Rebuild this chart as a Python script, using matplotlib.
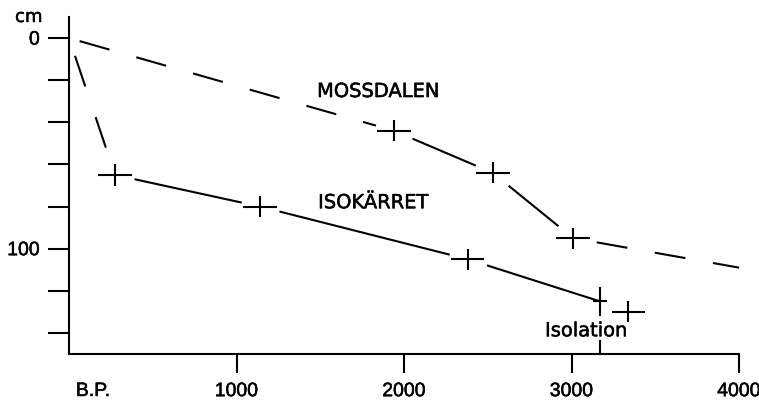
import matplotlib
matplotlib.use("Agg")
import matplotlib.pyplot as plt
import matplotlib.patheffects as pe

# Mossdalen dated levels (years B.P., depth in cm)
moss_bp = [1940, 2530, 3010]
moss_depth = [44, 64, 95]
moss_top = (0, 0)
moss_end = (4000, 109)

# Isokarret dated levels
iso_bp = [275, 1140, 2380, 3170]
iso_depth = [65, 80, 105, 125]
iso_top = (0, 0)
extra_bp = [3340]
extra_depth = [130]

isolation_bp = 3170

xticks = [1000, 2000, 3000, 4000]
yticks = [0, 20, 40, 60, 80, 100, 120, 140]
ylabels = ["0", "", "", "", "", "100", "", ""]

lw = 1.5
thick = [pe.withStroke(linewidth=0.35, foreground="black")]

fig = plt.figure(figsize=(7.59, 4.06), dpi=100)
ax = fig.add_axes([69/759, 51/406, 670/759, 337/406])
ax.set_xlim(0, 4000)
ax.set_ylim(150, -10)

for s in ["top", "right"]:
    ax.spines[s].set_visible(False)
for s in ["left", "bottom"]:
    ax.spines[s].set_linewidth(lw)

ax.set_xticks(xticks)
ax.set_xticklabels([str(t) for t in xticks])
ax.set_yticks(yticks)
ax.set_yticklabels(ylabels)
ax.tick_params(axis="x", length=14, width=lw, pad=7, labelsize=14)
ax.tick_params(axis="y", length=15, width=lw, pad=6, labelsize=14)
for lab in ax.get_xticklabels() + ax.get_yticklabels():
    lab.set_family("Liberation Sans")
    lab.set_path_effects(thick)

# dashed parts
ax.plot([moss_top[0], moss_bp[0]], [moss_top[1], moss_depth[0]], color="black",
        lw=lw, ls=(23, (14.9, 13.4)), clip_on=False)
ax.plot([moss_bp[-1], moss_end[0]], [moss_depth[-1], moss_end[1]], color="black",
        lw=lw, ls=(16.8, (14.9, 13.4)), clip_on=False)
ax.plot([iso_top[0], iso_bp[0]], [iso_top[1], iso_depth[0]], color="black",
        lw=lw, ls=(22, (15.5, 15.5)), clip_on=False)

# solid parts
ax.plot(moss_bp, moss_depth, color="black", lw=lw)
ax.plot(iso_bp, iso_depth, color="black", lw=lw)

# white gaps round the crosses
ax.plot(moss_bp, moss_depth, "o", color="white", ms=28, mec="none", zorder=3)
ax.plot(iso_bp[:-1], iso_depth[:-1], "o", color="white", ms=28, mec="none", zorder=3)

# crosses
ekw = dict(fmt="none", ecolor="black", elinewidth=lw, capsize=0, zorder=4)
ax.errorbar(moss_bp, moss_depth, xerr=100, yerr=5, **ekw)
ax.errorbar(iso_bp[:-1], iso_depth[:-1], xerr=100, yerr=5, **ekw)
ax.errorbar(iso_bp[-1:], iso_depth[-1:], xerr=40, yerr=7, **ekw)
ax.errorbar(extra_bp, extra_depth, xerr=100, yerr=5, **ekw)

ax.axvline(isolation_bp, ymin=0, ymax=0.038, color="black", lw=lw)

tkw = dict(fontsize=14, ha="left", va="baseline", zorder=5, path_effects=thick)
ax.text(1481, 28, "MOSSDALEN", **tkw)
ax.text(1487, 80.8, "ISOKÄRRET", **tkw)
ax.text(2842, 141.6, "Isolation", **tkw)

ax.annotate("B.P.", xy=(143, 0), xycoords=("data", "axes fraction"),
            xytext=(0, -27), textcoords="offset points", ha="center", va="center",
            fontsize=14, family="Liberation Sans", path_effects=thick)
ax.annotate("cm", xy=(0, 1), xycoords="axes fraction",
            xytext=(-29, 0), textcoords="offset points", ha="center", va="center",
            fontsize=13, path_effects=thick)

fig.savefig("out.png", dpi=100)
